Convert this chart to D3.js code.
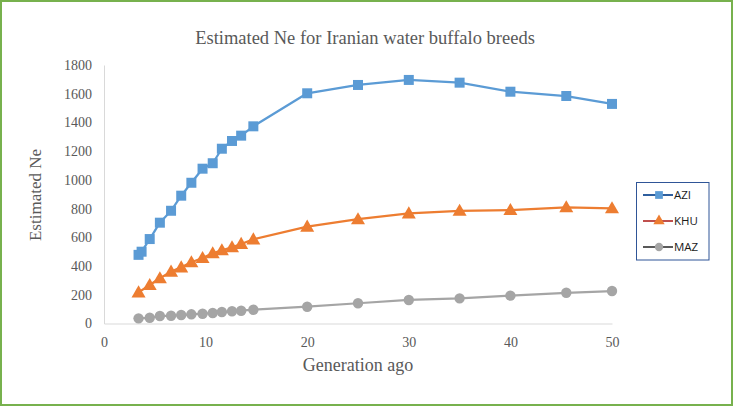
<!DOCTYPE html>
<html><head><meta charset="utf-8">
<script src="https://cdn.jsdelivr.net/npm/d3@7/dist/d3.min.js"></script>
<style>
html,body{margin:0;padding:0;background:#fff;}
svg{display:block;}
</style></head>
<body>
<script>
const title = "Estimated Ne for Iranian water buffalo breeds";
const xTitle = "Generation ago";
const yTitle = "Estimated Ne";
const seriesNames = ["AZI", "KHU", "MAZ"];
const aziGen = [3.4, 3.7, 4.5, 5.5, 6.6, 7.6, 8.6, 9.7, 10.7, 11.6, 12.6, 13.5, 14.7, 20, 25, 30, 35, 40, 45.5, 50];
const aziNe  = [478, 500, 588, 702, 785, 890, 980, 1078, 1116, 1217, 1271, 1308, 1373, 1603, 1661, 1696, 1677, 1614, 1584, 1529];
const khuGen = [3.4, 4.5, 5.5, 6.6, 7.6, 8.6, 9.7, 10.7, 11.6, 12.6, 13.5, 14.7, 20, 25, 30, 35, 40, 45.5, 50];
const khuNe  = [217, 268, 315, 361, 391, 426, 456, 489, 510, 531, 554, 586, 674, 726, 767, 785, 790, 809, 802];
const mazGen = [3.4, 4.5, 5.5, 6.6, 7.6, 8.6, 9.7, 10.7, 11.6, 12.6, 13.5, 14.7, 20, 25, 30, 35, 40, 45.5, 50];
const mazNe  = [36, 40, 52, 54, 59, 64, 68, 73, 80, 85, 89, 96, 117, 141, 164, 175, 194, 214, 226];
const xTicks = [0, 10, 20, 30, 40, 50];
const yTicks = [0, 200, 400, 600, 800, 1000, 1200, 1400, 1600, 1800];

const W = 733, H = 406;
const colors = ["#5b9bd5", "#ed7d31", "#a5a5a5"];
const legendLineColors = ["#2e5f9e", "#c0504d", "#595959"];
const shapes = [d3.symbolSquare, d3.symbolTriangle, d3.symbolCircle];
const sizes = [100, 85, 85];
const textColor = "#595959";
const serif = "Liberation Serif, Times New Roman, serif";

const svg = d3.select("body").append("svg").attr("width", W).attr("height", H);
svg.append("rect").attr("x", 1).attr("y", 1).attr("width", W - 2).attr("height", H - 2)
  .attr("fill", "#fff").attr("stroke", "#77b14d").attr("stroke-width", 2);

const x = d3.scaleLinear().domain([0, 50]).range([104, 612]);
const y = d3.scaleLinear().domain([0, 1800]).range([323.5, 65]);

svg.append("text").attr("x", 365).attr("y", 44).attr("text-anchor", "middle")
  .attr("font-family", serif).attr("font-size", 18.5).attr("fill", textColor).text(title);

// axes
const xAxis = svg.append("g").attr("transform", `translate(0,${y(0)})`)
  .call(d3.axisBottom(x).tickValues(xTicks).tickFormat(d3.format("d")).tickSize(0).tickPadding(14));
const yAxis = svg.append("g").attr("transform", `translate(${x(0)},0)`)
  .call(d3.axisLeft(y).tickValues(yTicks).tickFormat(d3.format("d")).tickSize(0).tickPadding(12));
[xAxis, yAxis].forEach(g => {
  g.attr("font-family", serif).attr("font-size", 14);
  g.select(".domain").attr("stroke", "#d9d9d9").attr("stroke-width", 1);
  g.selectAll("text").attr("font-family", serif).attr("font-size", 14).attr("fill", textColor);
});

svg.append("text").attr("x", 358).attr("y", 371).attr("text-anchor", "middle")
  .attr("font-family", serif).attr("font-size", 18).attr("fill", textColor).text(xTitle);
svg.append("text").attr("transform", `translate(41,195) rotate(-90)`).attr("text-anchor", "middle")
  .attr("font-family", serif).attr("font-size", 17).attr("fill", textColor).text(yTitle);

const data = [
  aziGen.map((g, i) => [g, aziNe[i]]),
  khuGen.map((g, i) => [g, khuNe[i]]),
  mazGen.map((g, i) => [g, mazNe[i]])
];
const line = d3.line().x(d => x(d[0])).y(d => y(d[1]));

// draw bottom series first
[2, 1, 0].forEach(si => {
  const g = svg.append("g");
  g.append("path").attr("d", line(data[si])).attr("fill", "none")
    .attr("stroke", colors[si]).attr("stroke-width", 2.25).attr("stroke-linejoin", "round");
  g.selectAll("path.m").data(data[si]).join("path").attr("class", "m")
    .attr("d", d3.symbol().type(shapes[si]).size(sizes[si]))
    .attr("transform", d => `translate(${x(d[0])},${y(d[1]) + (si === 1 ? 1 : 0)})`)
    .attr("fill", colors[si]);
});

// legend
const lg = svg.append("g");
lg.append("rect").attr("x", 636.5).attr("y", 182.5).attr("width", 72.5).attr("height", 77.5)
  .attr("fill", "#fff").attr("stroke", "#2f5597").attr("stroke-width", 1);
seriesNames.forEach((n, i) => {
  const ly = 195 + i * 26;
  lg.append("line").attr("x1", 643).attr("x2", 673).attr("y1", ly).attr("y2", ly)
    .attr("stroke", legendLineColors[i]).attr("stroke-width", 2);
  lg.append("path").attr("d", d3.symbol().type(shapes[i]).size(i === 0 ? 60 : 55))
    .attr("transform", `translate(659,${ly})`).attr("fill", colors[i]);
  lg.append("text").attr("x", 674).attr("y", ly + 4).attr("font-family", "Open Sans, Liberation Sans, sans-serif")
    .attr("font-size", 11.5).attr("fill", "#1a1a1a").text(n);
});
</script>
</body></html>
